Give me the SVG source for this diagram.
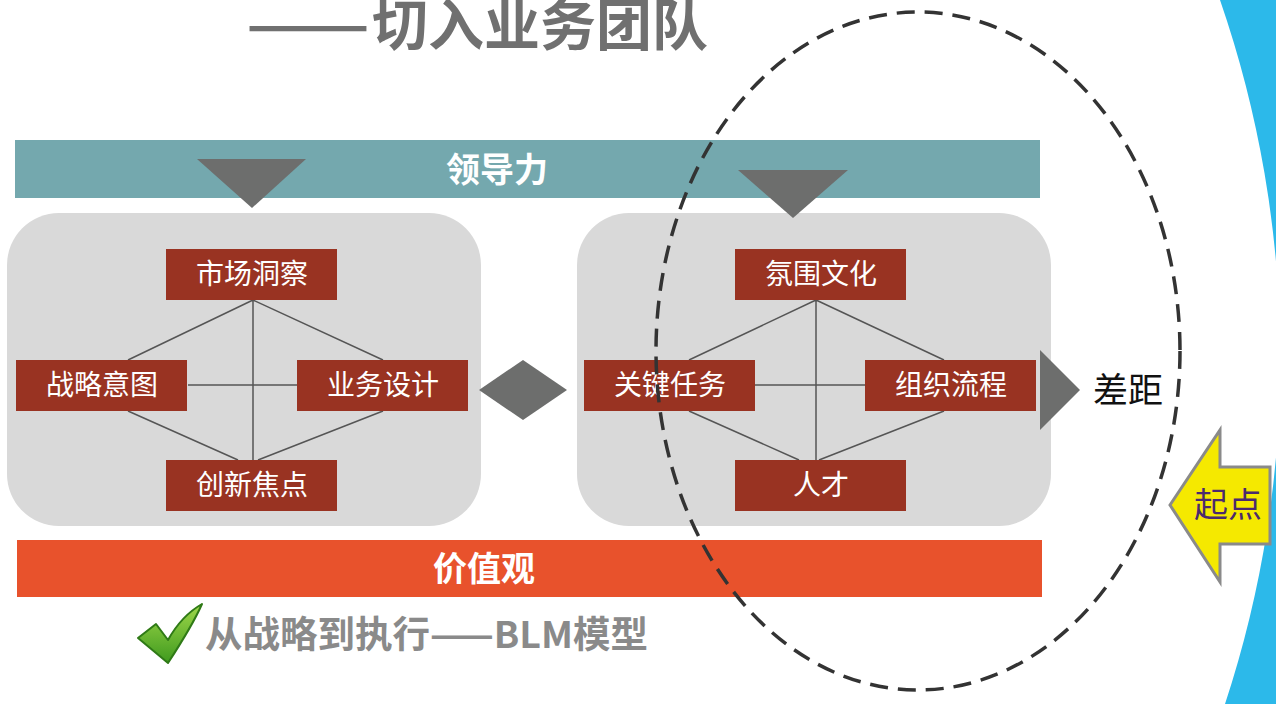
<svg xmlns="http://www.w3.org/2000/svg" width="1276" height="704" viewBox="0 0 1276 704">
<defs>
<style>
.cjk{font-family:"Noto Sans CJK SC","Noto Sans",sans-serif;}
.node rect{fill:#993322;}
.node text{fill:#ffffff;font-size:28px;text-anchor:middle;font-family:"Noto Sans CJK SC",sans-serif;}
.panel{fill:#d9d9d9;}
.tri{fill:#6d6e6d;}
.link{stroke:#555555;stroke-width:1.5;fill:none;}
.bartext{fill:#ffffff;font-size:34px;font-weight:bold;text-anchor:middle;font-family:"Noto Sans CJK SC",sans-serif;}
</style>
<linearGradient id="chk" x1="0" y1="0" x2="0" y2="1">
<stop offset="0" stop-color="#9fd84a"/>
<stop offset="1" stop-color="#3f9a1e"/>
</linearGradient>
</defs>
<rect width="1276" height="704" fill="#ffffff"/>
<path d="M1220,0 A1100,1100 0 0 1 1225,704 L1276,704 L1276,0 Z" fill="#2cb9ea"/>

<g id="title">
<text x="246" y="45" class="cjk" font-size="56" font-weight="bold" fill="#707070"><tspan textLength="124" lengthAdjust="spacingAndGlyphs">——</tspan><tspan x="372">切入业务团队</tspan></text>
</g>

<g id="leadership">
<rect x="15" y="140" width="1025" height="58" fill="#74a8ae"/>
<text x="497" y="182" class="bartext">领导力</text>
</g>

<g id="values">
<rect x="17" y="540" width="1025" height="57" fill="#e8522c"/>
<text x="484" y="581" class="bartext">价值观</text>
</g>

<g id="panel-left"><rect class="panel" x="7" y="213" width="474" height="313" rx="52"/></g>
<g id="panel-right"><rect class="panel" x="577" y="213" width="474" height="313" rx="52"/></g>

<g id="shapes">
<polygon class="tri" points="197,159 306,159 252,208"/>
<polygon class="tri" points="738,170 848,170 793,218"/>
<polygon class="tri" points="479,390 523,360 567,390 523,420"/>
<polygon class="tri" points="1040,350 1080,390 1040,430"/>
</g>

<g id="connectors">
<path class="link" d="M253,300 L128,360 M253,300 L383,360 M253,300 L253,460 M188,385 L297,385 M128,411 L238,460 M383,411 L258,460"/>
<path class="link" d="M816,300 L689,360 M816,300 L944,360 M816,300 L816,460 M755,385 L865,385 M689,411 L799,460 M944,411 L819,460"/>
</g>

<g id="n-market" class="node"><rect x="166" y="249" width="171" height="51"/><text x="252" y="284">市场洞察</text></g>
<g id="n-intent" class="node"><rect x="16" y="360" width="171" height="51"/><text x="102" y="395">战略意图</text></g>
<g id="n-design" class="node"><rect x="297" y="360" width="171" height="51"/><text x="383" y="395">业务设计</text></g>
<g id="n-innov" class="node"><rect x="166" y="460" width="171" height="51"/><text x="252" y="495">创新焦点</text></g>

<g id="n-culture" class="node"><rect x="735" y="249" width="171" height="51"/><text x="821" y="284">氛围文化</text></g>
<g id="n-task" class="node"><rect x="584" y="360" width="171" height="51"/><text x="670" y="395">关键任务</text></g>
<g id="n-process" class="node"><rect x="865" y="360" width="171" height="51"/><text x="951" y="395">组织流程</text></g>
<g id="n-talent" class="node"><rect x="735" y="460" width="171" height="51"/><text x="821" y="495">人才</text></g>

<g id="gap">
<text x="1128" y="403" class="cjk" font-size="35" fill="#111111" text-anchor="middle">差距</text>
</g>

<g id="start">
<polygon points="1170,505 1220,430 1220,467 1270,467 1270,544 1220,544 1220,582" fill="#f5e900" stroke="#8a8a8a" stroke-width="3" stroke-linejoin="miter"/>
<text x="1228" y="517" class="cjk" font-size="34" fill="#4b2a6e" text-anchor="middle">起点</text>
</g>

<g id="ellipse">
<ellipse cx="918" cy="351" rx="262" ry="339" fill="none" stroke="#333333" stroke-width="3.5" stroke-dasharray="18 10"/>
</g>

<g id="footer">
<path d="M138,638 L156,624 L168,640 C178,622 188,612 202,604 C195,620 183,640 168,663 Z" fill="url(#chk)" stroke="#2f7a16" stroke-width="2" stroke-linejoin="round"/>
<text x="205" y="648" class="cjk" font-size="37" font-weight="bold" fill="#8a8a8a" textLength="443" lengthAdjust="spacingAndGlyphs">从战略到执行——BLM模型</text>
</g>
</svg>
